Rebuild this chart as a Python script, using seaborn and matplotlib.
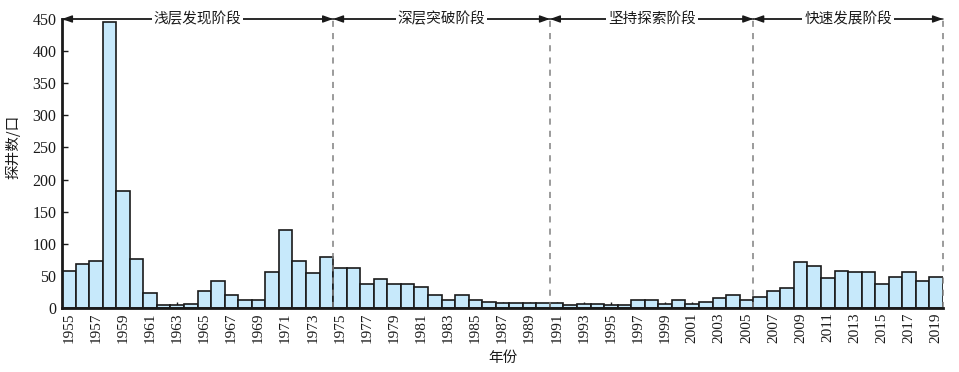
import matplotlib
matplotlib.use("Agg")
import matplotlib.pyplot as plt
import seaborn as sns
import pandas as pd

years = list(range(1955, 2020))
wells = [57, 68, 73, 445, 182, 77, 24, 4, 4, 7,
         26, 42, 20, 13, 13, 56, 121, 73, 54, 79,
         63, 63, 38, 45, 37, 37, 32, 20, 13, 20,
         13, 10, 8, 8, 8, 8, 8, 4, 6, 6,
         4, 4, 12, 12, 6, 13, 6, 10, 15, 20,
         13, 17, 26, 31, 71, 66, 46, 57, 56, 56,
         37, 48, 56, 42, 49]
phase_names = ["浅层发现阶段", "深层突破阶段", "坚持探索阶段", "快速发展阶段"]
phase_bounds = [1954.5, 1974.5, 1990.5, 2005.5, 2019.5]

sns.set_theme(style="ticks")
plt.rcParams['font.family'] = ['Liberation Serif', 'Noto Sans CJK SC', 'DejaVu Sans']

df = pd.DataFrame({"year": [str(y) for y in years], "wells": wells})

fig = plt.figure(figsize=(9.59, 3.72), dpi=100)
ax = fig.add_axes([62/959, 1-308/372, (943-62)/959, (308-19)/372])

sns.barplot(data=df, x="year", y="wells", color="#c7e9fb", saturation=1,
            edgecolor="#1a1a1a", linewidth=1.2, width=1.0, ax=ax)

ax.set_xlim(-0.5, len(years) - 0.5)
ax.set_ylim(0, 450)
ax.set_yticks(range(0, 451, 50))
ax.set_xticks(range(0, len(years), 2))
ax.set_xticklabels([str(y) for y in years[::2]], rotation=90, fontsize=11)
ax.tick_params(axis='y', labelsize=11.5, direction='in', length=4, width=1, pad=4,
               colors="#1a1a1a")
ax.tick_params(axis='x', direction='in', length=4, width=1, pad=3, colors="#1a1a1a")

for s in ["top", "right"]:
    ax.spines[s].set_visible(False)
for s in ["left", "bottom"]:
    ax.spines[s].set_linewidth(2)
    ax.spines[s].set_color("#1a1a1a")

ax.set_ylabel("探井数/口", fontsize=10.5, family=['Noto Sans CJK SC'], color="#1a1a1a")
ax.yaxis.set_label_coords(-0.047, 0.557)
ax.set_xlabel("年份", fontsize=10.5, family=['Noto Sans CJK SC'], labelpad=6, color="#1a1a1a")

def pos(y):
    return y - years[0]

for b in phase_bounds[1:]:
    ax.plot([pos(b), pos(b)], [0, 450], linestyle=(0, (4, 4)), color="#808080",
            linewidth=1.1, zorder=1, clip_on=False)

for i, name in enumerate(phase_names):
    x0, x1 = pos(phase_bounds[i]), pos(phase_bounds[i + 1])
    for a, b in ((x0, x1), (x1, x0)):
        ax.annotate("", xy=(a, 450), xytext=(b, 450),
                    arrowprops=dict(arrowstyle="-|>,head_length=0.5,head_width=0.18",
                                    color="#1a1a1a", lw=1, shrinkA=0, shrinkB=0),
                    annotation_clip=False)
    ax.text((x0 + x1) / 2, 450, name, ha="center", va="center", fontsize=10.5,
            family=['Noto Sans CJK SC'], color="#1a1a1a",
            bbox=dict(facecolor="white", edgecolor="none", pad=1.5), zorder=5, clip_on=False)

fig.savefig("out.png", dpi=100)
